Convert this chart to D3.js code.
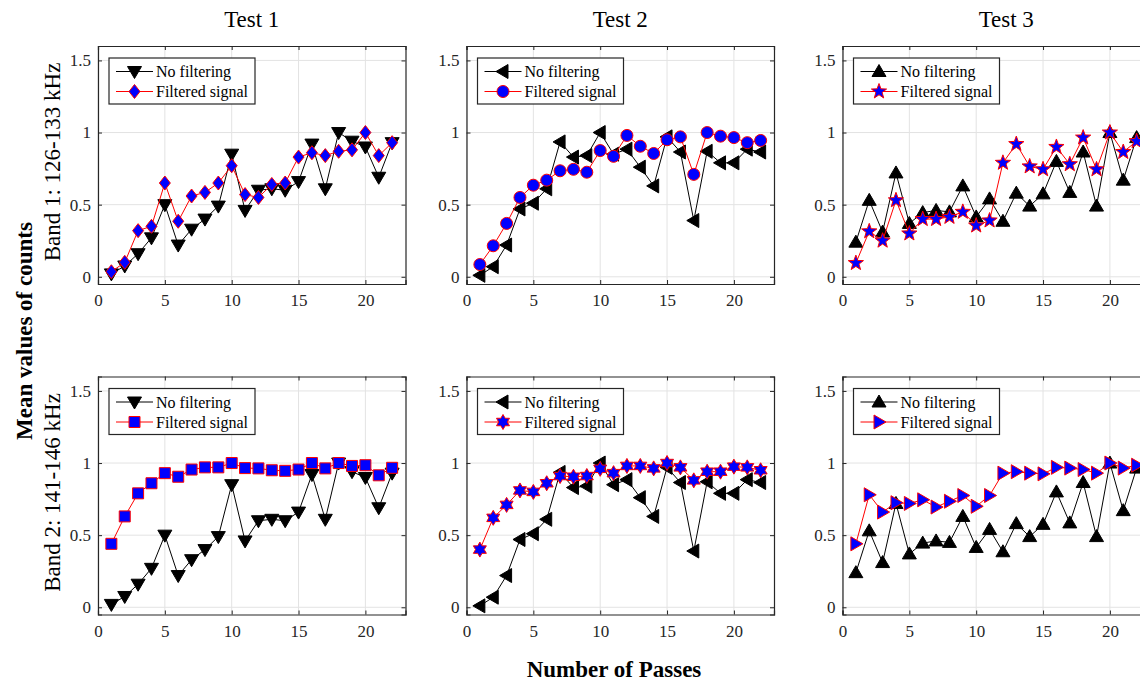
<!DOCTYPE html>
<html>
<head>
<meta charset="utf-8">
<script src="https://cdn.jsdelivr.net/npm/d3@7"></script>
<style>
  body { margin: 0; background: #fff; }
  svg { display: block; }
  svg text { font-family: "Liberation Serif", "Times New Roman", serif; }
</style>
</head>
<body>
<svg id="chart" width="1140" height="684"></svg>
<script>
// passes on the x axis
var passes = [1, 2, 3, 4, 5, 6, 7, 8, 9, 10, 11, 12, 13, 14, 15, 16, 17, 18, 19, 20, 21, 22];

var tests = ['Test 1', 'Test 2', 'Test 3'];
var bands = ['Band 1: 126-133 kHz', 'Band 2: 141-146 kHz'];
var seriesNames = ['No filtering', 'Filtered signal'];

var xTicks = [0, 5, 10, 15, 20];
var yTicks = [0, 0.5, 1, 1.5];

// no filtering (same in both bands)
var noFilterT1 = [0.02, 0.075, 0.16, 0.27, 0.50, 0.22, 0.33, 0.40, 0.49, 0.85, 0.46,
  0.60, 0.61, 0.60, 0.66, 0.92, 0.61, 1.0, 0.94, 0.90, 0.69, 0.93];
var noFilterT2 = [0.01, 0.07, 0.22, 0.47, 0.51, 0.61, 0.935, 0.83, 0.84, 1.0, 0.85,
  0.885, 0.76, 0.63, 0.97, 0.865, 0.39, 0.87, 0.79, 0.79, 0.885, 0.865];
var noFilterT3 = [0.24, 0.53, 0.31, 0.72, 0.37, 0.445, 0.46, 0.45, 0.63, 0.415, 0.54,
  0.385, 0.58, 0.49, 0.575, 0.80, 0.585, 0.865, 0.49, 1.0, 0.67, 0.965];

// filtered, band 1
var filtB1T1 = [0.035, 0.10, 0.32, 0.35, 0.65, 0.385, 0.56, 0.585, 0.65, 0.77, 0.57,
  0.55, 0.64, 0.65, 0.83, 0.86, 0.84, 0.87, 0.88, 1.0, 0.84, 0.93];
var filtB1T2 = [0.085, 0.215, 0.37, 0.55, 0.635, 0.67, 0.735, 0.745, 0.725, 0.875, 0.835,
  0.98, 0.905, 0.855, 0.95, 0.97, 0.71, 1.0, 0.975, 0.965, 0.93, 0.945];
var filtB1T3 = [0.095, 0.315, 0.25, 0.53, 0.30, 0.40, 0.40, 0.415, 0.45, 0.355, 0.39,
  0.79, 0.92, 0.765, 0.745, 0.90, 0.78, 0.965, 0.745, 1.0, 0.865, 0.94];

// filtered, band 2
var filtB2T1 = [0.44, 0.63, 0.79, 0.86, 0.93, 0.905, 0.955, 0.97, 0.97, 1.0, 0.965,
  0.963, 0.95, 0.946, 0.955, 1.0, 0.963, 1.0, 0.98, 0.985, 0.915, 0.967];
var filtB2T2 = [0.40, 0.62, 0.71, 0.81, 0.80, 0.86, 0.91, 0.905, 0.91, 0.96, 0.93,
  0.98, 0.98, 0.963, 1.0, 0.97, 0.88, 0.94, 0.94, 0.975, 0.97, 0.95];
var filtB2T3 = [0.44, 0.78, 0.66, 0.725, 0.72, 0.745, 0.695, 0.735, 0.775, 0.70, 0.775,
  0.93, 0.94, 0.93, 0.925, 0.97, 0.965, 0.955, 0.93, 1.0, 0.965, 0.985];

var panels = [
  {row: 0, col: 0, raw: noFilterT1, filt: filtB1T1, rawMark: 'down', filtMark: 'diamond'},
  {row: 0, col: 1, raw: noFilterT2, filt: filtB1T2, rawMark: 'left', filtMark: 'circle'},
  {row: 0, col: 2, raw: noFilterT3, filt: filtB1T3, rawMark: 'up', filtMark: 'star'},
  {row: 1, col: 0, raw: noFilterT1, filt: filtB2T1, rawMark: 'down', filtMark: 'square'},
  {row: 1, col: 1, raw: noFilterT2, filt: filtB2T2, rawMark: 'left', filtMark: 'hexagram'},
  {row: 1, col: 2, raw: noFilterT3, filt: filtB2T3, rawMark: 'up', filtMark: 'right'}
];

var colLeft = [98, 466.5, 842.5];
var rowTop = [46, 376.5];
var pw = 307.5, ph = 238;
var serif = '"Liberation Serif", "Times New Roman", serif';

var svg = d3.select('#chart');

function poly(pts) {
  return 'M' + pts.map(function(p) { return p[0] + ',' + p[1]; }).join('L') + 'Z';
}

function starPath(n, ro, ri) {
  var pts = [];
  for (var i = 0; i < n * 2; i++) {
    var a = -Math.PI / 2 + i * Math.PI / n;
    var r = i % 2 ? ri : ro;
    pts.push([r * Math.cos(a), r * Math.sin(a)]);
  }
  return poly(pts);
}

var markerPath = {
  up: poly([[0, -7], [7, 5], [-7, 5]]),
  down: poly([[0, 7], [7, -5], [-7, -5]]),
  left: poly([[-7, 0], [5, -7], [5, 7]]),
  right: poly([[7, 0], [-5, -7], [-5, 7]]),
  diamond: poly([[0, -7], [5.5, 0], [0, 7], [-5.5, 0]]),
  square: poly([[-5.5, -5.5], [5.5, -5.5], [5.5, 5.5], [-5.5, 5.5]]),
  circle: d3.symbol().type(d3.symbolCircle).size(Math.PI * 36)(),
  star: starPath(5, 8, 3.3),
  hexagram: starPath(6, 7.5, 4.3)
};

var rawStyle = {line: '#000', fill: '#000', stroke: '#000'};
var filtStyle = {line: '#ff0000', fill: '#0000ff', stroke: '#ff0000'};

function styleAxis(sel) {
  sel.select('.domain').attr('stroke', '#262626').attr('stroke-width', 1.2);
  sel.selectAll('.tick line').attr('stroke', '#262626');
  sel.selectAll('.tick text')
    .style('font-family', serif)
    .style('font-size', '17px')
    .attr('fill', '#262626');
}

function drawSeries(g, values, x, y, mark, style) {
  var line = d3.line()
    .x(function(d, i) { return x(passes[i]); })
    .y(function(d) { return y(d); });
  g.append('path')
    .datum(values)
    .attr('d', line)
    .attr('fill', 'none')
    .attr('stroke', style.line)
    .attr('stroke-width', 1);
  g.selectAll(null)
    .data(values)
    .enter()
    .append('path')
    .attr('d', markerPath[mark])
    .attr('transform', function(d, i) {
      return 'translate(' + x(passes[i]) + ',' + y(d) + ')';
    })
    .attr('fill', style.fill)
    .attr('stroke', style.stroke)
    .attr('stroke-width', 1);
}

panels.forEach(function(p) {
  var left = colLeft[p.col], top = rowTop[p.row];
  var x = d3.scaleLinear().domain([0, 23]).range([0, pw]);
  var y = d3.scaleLinear().domain([-0.05, 1.6]).range([ph, 0]);
  var g = svg.append('g').attr('transform', 'translate(' + left + ',' + top + ')');

  // grid
  g.selectAll('.gx').data(xTicks).enter().append('line')
    .attr('x1', x).attr('x2', x).attr('y1', 0).attr('y2', ph)
    .attr('stroke', '#e3e3e3').attr('stroke-width', 1);
  g.selectAll('.gy').data(yTicks).enter().append('line')
    .attr('y1', y).attr('y2', y).attr('x1', 0).attr('x2', pw)
    .attr('stroke', '#e3e3e3').attr('stroke-width', 1);

  // axes, ticks pointing inward on all sides
  g.append('g').attr('transform', 'translate(0,' + ph + ')')
    .call(d3.axisBottom(x).tickValues(xTicks).tickSize(-4).tickPadding(10))
    .call(styleAxis);
  g.append('g')
    .call(d3.axisTop(x).tickValues(xTicks).tickSize(-4).tickFormat(''))
    .call(styleAxis);
  g.append('g')
    .call(d3.axisLeft(y).tickValues(yTicks).tickSize(-4).tickPadding(7)
      .tickFormat(function(d) { return d; }))
    .call(styleAxis);
  g.append('g').attr('transform', 'translate(' + pw + ',0)')
    .call(d3.axisRight(y).tickValues(yTicks).tickSize(-4).tickFormat(''))
    .call(styleAxis);

  drawSeries(g, p.raw, x, y, p.rawMark, rawStyle);
  drawSeries(g, p.filt, x, y, p.filtMark, filtStyle);

  // legend
  var lg = g.append('g').attr('transform', 'translate(11,12)');
  lg.append('rect').attr('width', 146).attr('height', 46)
    .attr('fill', '#fff').attr('stroke', '#262626').attr('stroke-width', 1.2);
  [[p.rawMark, rawStyle], [p.filtMark, filtStyle]].forEach(function(e, i) {
    var ly = 13.5 + i * 20;
    lg.append('line').attr('x1', 7).attr('x2', 44).attr('y1', ly).attr('y2', ly)
      .attr('stroke', e[1].line).attr('stroke-width', 1);
    lg.append('path').attr('d', markerPath[e[0]])
      .attr('transform', 'translate(25.5,' + ly + ')')
      .attr('fill', e[1].fill).attr('stroke', e[1].stroke);
    lg.append('text').attr('x', 47).attr('y', ly).attr('dy', '0.35em')
      .style('font-family', serif).style('font-size', '16px')
      .attr('fill', '#000').text(seriesNames[i]);
  });
});

// column titles
tests.forEach(function(t, i) {
  svg.append('text')
    .attr('x', colLeft[i] + pw / 2 + (i === 2 ? 10 : 0))
    .attr('y', 27)
    .attr('text-anchor', 'middle')
    .style('font-family', serif)
    .style('font-size', '23px')
    .text(t);
});

// row labels
bands.forEach(function(b, i) {
  svg.append('text')
    .attr('transform', 'translate(60,' + (rowTop[i] + 116) + ') rotate(-90)')
    .attr('text-anchor', 'middle')
    .style('font-family', serif)
    .style('font-size', '23px')
    .text(b);
});

svg.append('text')
  .attr('transform', 'translate(32,331) rotate(-90)')
  .attr('text-anchor', 'middle')
  .style('font-family', serif)
  .style('font-size', '23px')
  .style('font-weight', 'bold')
  .text('Mean values of counts');

svg.append('text')
  .attr('x', 614)
  .attr('y', 677)
  .attr('text-anchor', 'middle')
  .style('font-family', serif)
  .style('font-size', '23px')
  .style('font-weight', 'bold')
  .text('Number of Passes');
</script>
</body>
</html>
